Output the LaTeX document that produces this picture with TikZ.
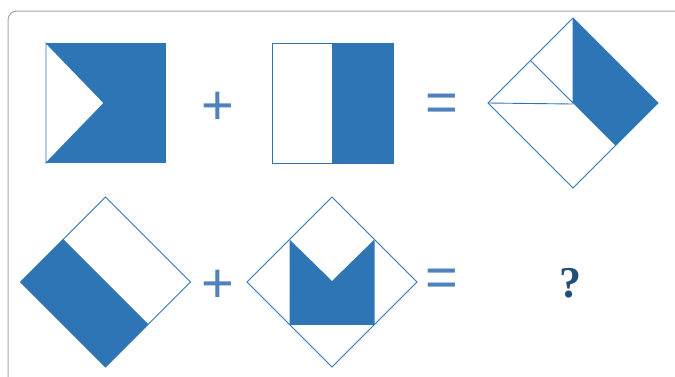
\documentclass[tikz,border=0pt]{standalone}
\usepackage{fontspec}
\setmainfont{Liberation Sans}
\newfontfamily\askfont{Liberation Serif}
\usepackage{xcolor}
\usetikzlibrary{positioning}

\definecolor{figblue}{HTML}{2E75B6}
\definecolor{opblue}{HTML}{4F81BD}
\definecolor{askblue}{HTML}{1F4E79}
\definecolor{framegray}{HTML}{A6A6A6}

\begin{document}
\begin{tikzpicture}[x=1pt,y=-1pt,
	edge/.style={draw=figblue, line width=0.9pt},
	oper/.style={text=opblue, font=\fontsize{56}{60}\selectfont, inner sep=0pt},
	frame/.style={draw=framegray, line width=1pt, rounded corners=9pt}]
		
		\useasboundingbox (0,0) rectangle (675,376);
		
		% Frame
		\draw[frame] (8,380) -- (8,11) -- (680,11);
		
		% Row 1: chevron square
		\fill[figblue] (46,43) rectangle (166,163);
		\filldraw[fill=white, edge] (46,43) -- (104,103) -- (46,163) -- cycle;
		
		\node[oper] (plusA) at (218,108) {+};
		
		% Row 1: half square
		\fill[figblue] (332,43) rectangle (393,163);
		\draw[edge] (272,43) rectangle (393,163);
		\draw[edge] (332,43) -- (332,163);
		
		\node[oper] (eqA) at (442,108) {=};
		
		% Row 1: result diamond
		\fill[figblue]
		(573,18) -- (658,103) -- (615.5,145.5) -- (573,103) -- cycle;
		\draw[edge] (573,18) -- (658,103) -- (573,188) -- (488,103) -- cycle;
		\draw[edge] (488,103) -- (573,104);
		\draw[edge] (530.5,60.5) -- (573,103) -- (573,18);
		
		% Row 2: half diamond
		\fill[figblue]
		(20.5,282) -- (63,239.5) -- (148,324.5) -- (105.5,367) -- cycle;
		\draw[edge] (105.5,197) -- (190.5,282) -- (105.5,367) -- (20.5,282) -- cycle;
		\draw[edge] (63,239.5) -- (148,324.5);
		
		\node[oper] (plusB) at (218,286) {+};
		
		% Row 2: M in diamond
		\fill[figblue]
		(289.5,239.5) -- (332,281) -- (374.5,239.5)
		-- (374.5,324.5) -- (289.5,324.5) -- cycle;
		\draw[edge] (332,197) -- (417,282) -- (332,367) -- (247,282) -- cycle;
		\draw[edge] (289.5,324.5) -- (374.5,324.5);
		
		\node[oper] (eqB) at (442,283) {=};
		
		% Unknown
		\node[text=askblue, inner sep=0pt,
		font=\askfont\bfseries\fontsize{44}{48}\selectfont]
		(ask) at (570,283.5) {?};
		
	\end{tikzpicture}
\end{document}
